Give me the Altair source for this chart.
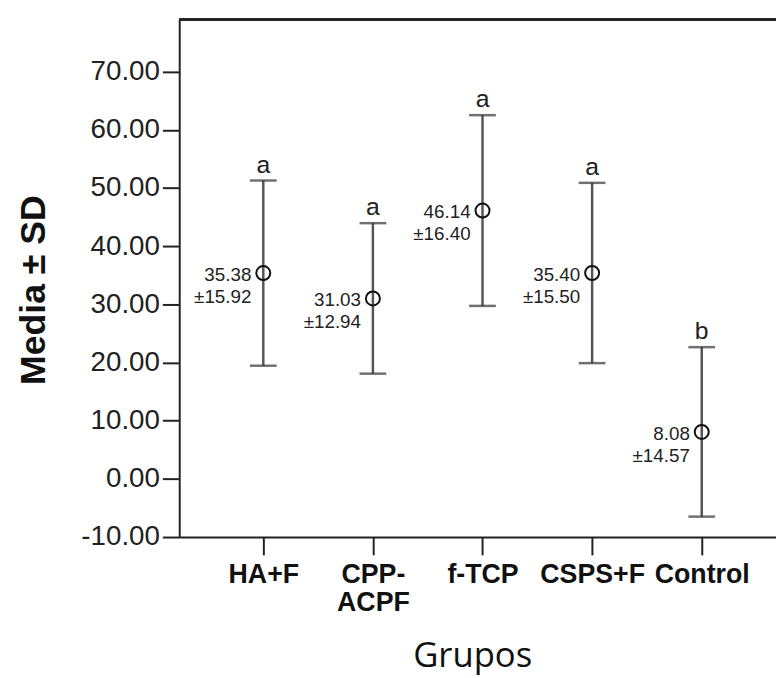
import altair as alt
import pandas as pd

groups = ["HA+F", "CPP-ACPF", "f-TCP", "CSPS+F", "Control"]
means = [35.38, 31.03, 46.14, 35.40, 8.08]
sds = [15.92, 12.94, 16.40, 15.50, 14.57]
letters = ["a", "a", "a", "a", "b"]
y_ticks = [-10, 0, 10, 20, 30, 40, 50, 60, 70]

df = pd.DataFrame({"grupo": groups, "mean": means, "sd": sds, "letter": letters})
df["lower"] = df["mean"] - df["sd"]
df["upper"] = df["mean"] + df["sd"]
df["mlabel"] = df["mean"].map(lambda v: f"{v:.2f}")
df["slabel"] = df["sd"].map(lambda v: f"±{v:.2f}")

W, H = 603, 523
FONT = "Liberation Sans"

x = alt.X(
    "grupo:N",
    sort=groups,
    scale=alt.Scale(type="point", domain=groups, padding=0.7223, align=0.531),
    axis=alt.Axis(
        title="Grupos",
        titleFont="Open Sans",
        titleFontSize=35,
        titleFontWeight="normal",
        titleColor="#111",
        titlePadding=24,
        titleX=296,
        labelFont=FONT,
        labelFontSize=27,
        labelFontWeight="bold",
        labelColor="#111",
        labelAngle=0,
        labelPadding=7,
        labelLineHeight=28,
        labelExpr="datum.value == 'CPP-ACPF' ? ['CPP-', 'ACPF'] : datum.value",
        tickSize=18,
        tickWidth=2,
        tickColor="#222",
        domainColor="#222",
        domainWidth=2,
        grid=False,
    ),
)

yscale = alt.Scale(domain=[-10, 79], nice=False, zero=False)
yaxis = alt.Axis(
    title="Media ± SD",
    titleFont=FONT,
    titleFontSize=36,
    titleFontWeight="bold",
    titleColor="#111",
    titlePadding=29,
    titleY=273,
    values=y_ticks,
    labelExpr="(datum.value < 0 ? '-' : '') + format(abs(datum.value), '.2f')",
    labelFont=FONT,
    labelFontSize=28,
    labelColor="#222",
    labelPadding=3,
    tickSize=17,
    tickWidth=2,
    tickColor="#222",
    domainColor="#222",
    domainWidth=2,
    grid=False,
)

base = alt.Chart(df)

rules = base.mark_rule(color="#555", strokeWidth=2.5).encode(
    x=x, y=alt.Y("lower:Q", scale=yscale, axis=yaxis), y2="upper:Q"
)
cap_hi = base.mark_tick(color="#333", thickness=2.5, size=27).encode(
    x=x, y=alt.Y("upper:Q", scale=yscale)
)
cap_lo = base.mark_tick(color="#333", thickness=2.5, size=27).encode(
    x=x, y=alt.Y("lower:Q", scale=yscale)
)
points = base.mark_point(
    shape="circle", filled=False, size=200, color="#111", strokeWidth=2, opacity=1
).encode(x=x, y=alt.Y("mean:Q", scale=yscale))

mlab = base.mark_text(
    font=FONT, fontSize=19, align="right", baseline="middle", dx=-12, dy=2, color="#222"
).encode(x=x, y=alt.Y("mean:Q", scale=yscale), text="mlabel:N")
slab = base.mark_text(
    font=FONT, fontSize=19, align="right", baseline="middle", dx=-12, dy=24, color="#222"
).encode(x=x, y=alt.Y("mean:Q", scale=yscale), text="slabel:N")

let = base.mark_text(
    font=FONT, fontSize=25, align="center", baseline="bottom", dy=-3, color="#222"
).encode(x=x, y=alt.Y("upper:Q", scale=yscale), text="letter:N")

top = alt.Chart(df).mark_rule(color="#222", strokeWidth=2).encode(
    x=alt.value(0), x2=alt.value(W), y=alt.value(0)
)

chart = (
    alt.layer(rules, cap_hi, cap_lo, points, mlab, slab, let, top)
    .properties(
        width=W,
        height=H,
        autosize=alt.AutoSizeParams(type="none"),
        padding={"left": 173, "top": 8, "right": 0, "bottom": 150},
    )
    .configure_view(stroke=None)
)

chart.save("out.html", embed_options={"renderer": "svg", "actions": False})
